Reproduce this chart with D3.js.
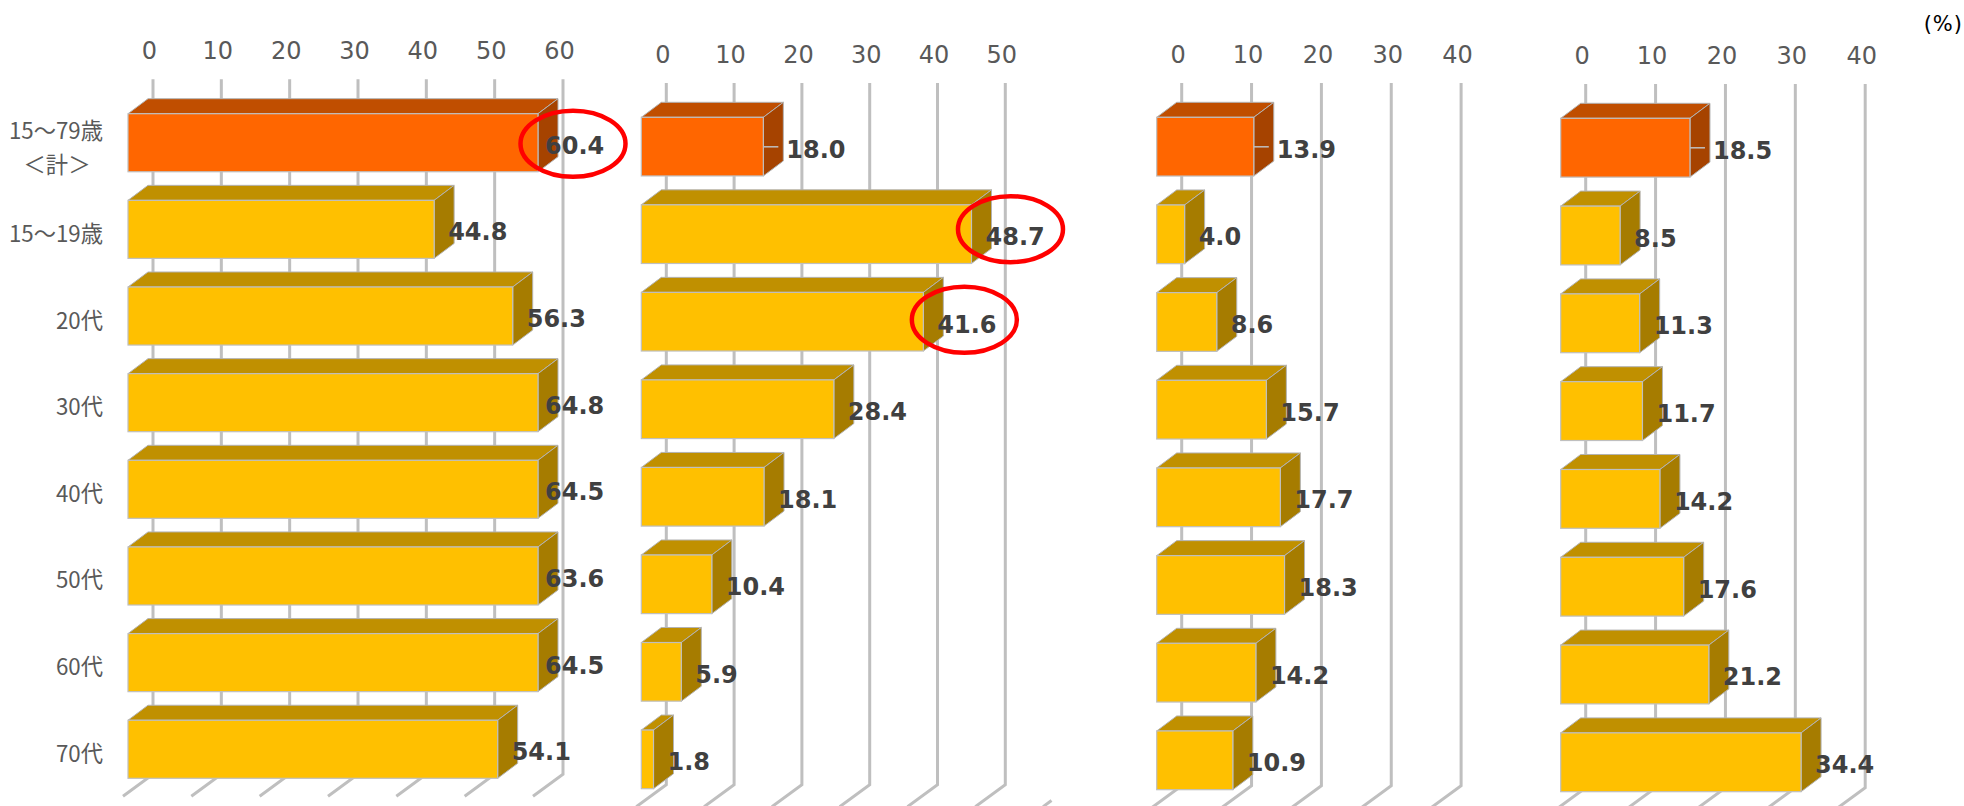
<!DOCTYPE html>
<html>
<head>
<meta charset="utf-8">
<script src="https://cdn.jsdelivr.net/npm/d3@7"></script>
<style>
    html, body { margin: 0; padding: 0; background: #fff; overflow: hidden; }
    svg { display: block; }
</style>
</head>
<body>
<div id="chart"></div>
<script>
// Data
const categories = ['15～79歳', '15～19歳', '20代', '30代', '40代', '50代', '60代', '70代'];
const seriesA = [60.4, 44.8, 56.3, 64.8, 64.5, 63.6, 64.5, 54.1];
const seriesB = [18.0, 48.7, 41.6, 28.4, 18.1, 10.4, 5.9, 1.8];
const seriesC = [13.9, 4.0, 8.6, 15.7, 17.7, 18.3, 14.2, 10.9];
const seriesD = [18.5, 8.5, 11.3, 11.7, 14.2, 17.6, 21.2, 34.4];
const ticksA = [0, 10, 20, 30, 40, 50, 60];
const ticksB = [0, 10, 20, 30, 40, 50];
const ticksC = [0, 10, 20, 30, 40];
const ticksD = [0, 10, 20, 30, 40];

const width = 1964;
const height = 806;

// Layout of each small chart: front-face x range and y range of the bars
const panels = [
    { values: seriesA, ticks: ticksA, x0: 128, x1: 538, y0: 113.7, y1: 778.3, circled: [{ i: 0, dx: 0, dy: 1 }] },
    { values: seriesB, ticks: ticksB, x0: 641.3, x1: 980.3, y0: 117.3, y1: 788.7, circled: [{ i: 1, dx: -3, dy: -5 }, { i: 2, dx: -1, dy: -2 }], floorStub: 60 },
    { values: seriesC, ticks: ticksC, x0: 1156.7, x1: 1436.1, y0: 117.3, y1: 789.7, circled: [] },
    { values: seriesD, ticks: ticksD, x0: 1560.7, x1: 1840.2, y0: 118.3, y1: 791.7, circled: [] }
];

const depthX = 20;      // bar depth
const depthY = 15;
const wallX = 25;       // gridlines stand this far behind the front face
const floorX = 30;      // floor lines running towards the viewer
const floorY = 22;

const colors = {
    total: { front: '#ff6600', top: '#c04e00', side: '#a64300' },
    other: { front: '#ffc000', top: '#c09000', side: '#a67c00' }
};

const svg = d3.select('#chart')
    .append('svg')
    .attr('width', width)
    .attr('height', height);

panels.forEach(panel => {
    const max = d3.max(panel.ticks);

    // Front-face scale, clamped: values past the axis maximum stop at the end
    const x = d3.scaleLinear()
        .domain([0, max])
        .range([panel.x0, panel.x1])
        .clamp(true);
    const gridX = x.copy().range([panel.x0 + wallX, panel.x1 + wallX]);

    const y = d3.scaleBand()
        .domain(categories)
        .range([panel.y0, panel.y1])
        .paddingInner(0.33);

    const g = svg.append('g');
    const gridTop = panel.y0 - 34.4;
    const gridBottom = panel.y1 - 4;

    // Axis labels sit slightly left of their gridlines
    const axis = d3.axisTop(gridX)
        .tickValues(panel.ticks)
        .tickSize(0)
        .tickPadding(0);
    g.append('g')
        .attr('transform', `translate(-4, ${panel.y0 - 54.5})`)
        .call(axis)
        .call(a => a.select('.domain').remove())
        .selectAll('text')
        .attr('fill', '#595959')
        .style('font-family', '"DejaVu Sans", sans-serif')
        .style('font-size', '24px');

    // Back wall and floor lines
    g.append('g').selectAll('path')
        .data(panel.ticks)
        .enter().append('path')
        .attr('d', d => `M${gridX(d)},${gridTop}V${gridBottom}l${-floorX},${floorY}`)
        .attr('fill', 'none')
        .attr('stroke', '#bfbfbf')
        .attr('stroke-width', 3);

    // The floor of the next tick shows a short way past the last wall line
    if (panel.floorStub) {
        const stubX = gridX.copy().clamp(false)(panel.floorStub);
        g.append('path')
            .attr('d', `M${stubX - floorX * 0.72},${gridBottom + floorY * 0.72}l${-floorX * 0.28},${floorY * 0.28}`)
            .attr('fill', 'none')
            .attr('stroke', '#bfbfbf')
            .attr('stroke-width', 3);
    }

    const rows = panel.values.map((value, i) => ({ value, i, cat: categories[i] }));
    const bars = g.append('g').selectAll('g')
        .data(rows)
        .enter().append('g');
    const scheme = d => d.i === 0 ? colors.total : colors.other;

    bars.append('polygon')
        .attr('points', d => {
            const r = x(d.value);
            const t = y(d.cat);
            return [[panel.x0, t], [panel.x0 + depthX, t - depthY], [r + depthX, t - depthY], [r, t]].join(' ');
        })
        .attr('fill', d => scheme(d).top)
        .attr('stroke', '#b3b3b3')
        .attr('stroke-width', 1);

    bars.append('polygon')
        .attr('points', d => {
            const r = x(d.value);
            const t = y(d.cat);
            const b = t + y.bandwidth();
            return [[r, t], [r + depthX, t - depthY], [r + depthX, b - depthY], [r, b]].join(' ');
        })
        .attr('fill', d => scheme(d).side)
        .attr('stroke', '#b3b3b3')
        .attr('stroke-width', 1);

    bars.append('rect')
        .attr('x', panel.x0)
        .attr('y', d => y(d.cat))
        .attr('width', d => x(d.value) - panel.x0)
        .attr('height', y.bandwidth())
        .attr('fill', d => scheme(d).front)
        .attr('stroke', '#bfbfbf')
        .attr('stroke-width', 1.2);

    // Leader line only where the label was pushed away from the first bar
    const labelGap = d => {
        if (d.value > max) return 7;
        if (d.i === 0) return 23;
        return 14;
    };

    g.append('g').selectAll('line')
        .data(rows.filter(d => d.i === 0 && d.value <= max))
        .enter().append('line')
        .attr('x1', d => x(d.value))
        .attr('x2', d => x(d.value) + 15)
        .attr('y1', d => y(d.cat) + 29.5)
        .attr('y2', d => y(d.cat) + 29.5)
        .attr('stroke', '#bfbfbf')
        .attr('stroke-width', 1.5);

    g.append('g').selectAll('text')
        .data(rows)
        .enter().append('text')
        .attr('x', d => x(d.value) + labelGap(d))
        .attr('y', d => y(d.cat) + y.bandwidth() / 2 + 11)
        .attr('fill', '#404040')
        .style('font-family', '"DejaVu Sans", sans-serif')
        .style('font-weight', 'bold')
        .style('font-size', '24px')
        .text(d => d3.format('.1f')(d.value));

    // Red hand-drawn circles around the notable labels
    g.append('g').selectAll('ellipse')
        .data(panel.circled)
        .enter().append('ellipse')
        .attr('cx', c => x(panel.values[c.i]) + labelGap(rows[c.i]) + 28 + c.dx)
        .attr('cy', c => y(categories[c.i]) + y.bandwidth() / 2 + c.dy)
        .attr('rx', 52.5)
        .attr('ry', 33)
        .attr('fill', 'none')
        .attr('stroke', '#ff0000')
        .attr('stroke-width', 4.5);

    // Category labels only on the first chart
    if (panel === panels[0]) {
        const catLabels = g.append('g')
            .style('font-family', '"Noto Sans CJK JP", sans-serif')
            .style('font-size', '22.3px')
            .attr('fill', '#595959');

        catLabels.selectAll('text')
            .data(categories)
            .enter().append('text')
            .attr('x', 103)
            .attr('text-anchor', 'end')
            .attr('y', (d, i) => y(d) + y.bandwidth() / 2 + (i === 0 ? -3.5 : 12.5))
            .text(d => d);

        catLabels.append('text')
            .attr('x', 57)
            .attr('text-anchor', 'middle')
            .attr('y', y(categories[0]) + y.bandwidth() / 2 + 30)
            .text('＜計＞');
    }
});

// Unit label, top right
svg.append('text')
    .attr('x', 1963)
    .attr('y', 31)
    .attr('text-anchor', 'end')
    .attr('fill', '#000')
    .style('font-family', '"DejaVu Sans", sans-serif')
    .style('font-size', '21px')
    .style('letter-spacing', '1px')
    .text('(%)');
</script>
</body>
</html>
